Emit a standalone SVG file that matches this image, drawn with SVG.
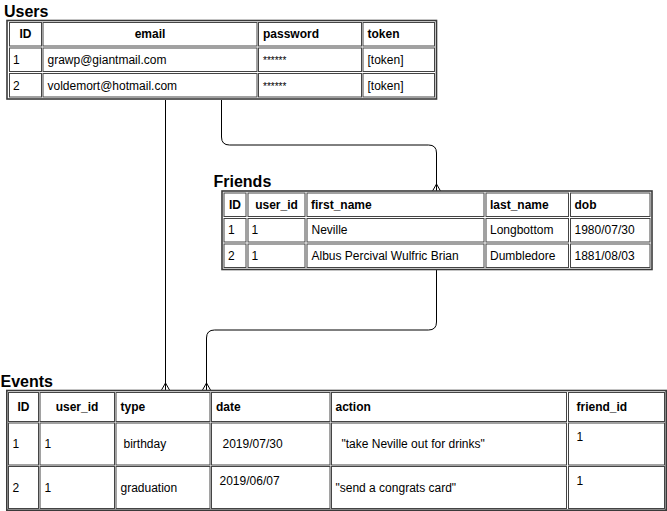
<svg xmlns="http://www.w3.org/2000/svg" width="667" height="511" viewBox="0 0 667 511">
<style>
.title{font-family:"Liberation Sans",Arial,sans-serif;font-size:16px;font-weight:bold;fill:#000}
.outer{fill:#fff;stroke:#3a3a3a;stroke-width:1.6}
.cell{fill:none;stroke:#444;stroke-width:1}
.t{font-family:"Liberation Sans",Arial,sans-serif;font-size:12px;fill:#000}
.h{font-family:"Liberation Sans",Arial,sans-serif;font-size:12px;font-weight:bold;fill:#000}
.c{text-anchor:middle}
.conn{fill:none;stroke:#000;stroke-width:1}
</style>
<defs>
<marker id="many" markerUnits="userSpaceOnUse" markerWidth="14" markerHeight="14" refX="10" refY="7" orient="auto" viewBox="0 0 14 14">
<path d="M10 3 L3 7 L10 11" fill="none" stroke="#000" stroke-width="1"/>
</marker>
</defs>
<rect width="667" height="511" fill="#fff"/>

<g id="connectors">
<path class="conn" d="M165.5 100 V390" marker-end="url(#many)"/>
<path class="conn" d="M221.5 100 V137 Q221.5 145 229.5 145 H428.5 Q436.5 145 436.5 153 V191" marker-end="url(#many)"/>
<path class="conn" d="M436.5 270 V322 Q436.5 330 428.5 330 H214.5 Q206.5 330 206.5 338 V390" marker-end="url(#many)"/>
</g>

<g id="users">
<text class="title" x="4" y="17">Users</text>
<rect class="outer" x="7" y="20.5" width="429.5" height="78.5"/>
<g class="cells">
<rect class="cell" x="9.5" y="22.5" width="32" height="23.5"/>
<rect class="cell" x="43" y="22.5" width="214" height="23.5"/>
<rect class="cell" x="258.5" y="22.5" width="103" height="23.5"/>
<rect class="cell" x="363" y="22.5" width="71.5" height="23.5"/>
<rect class="cell" x="9.5" y="48" width="32" height="23.5"/>
<rect class="cell" x="43" y="48" width="214" height="23.5"/>
<rect class="cell" x="258.5" y="48" width="103" height="23.5"/>
<rect class="cell" x="363" y="48" width="71.5" height="23.5"/>
<rect class="cell" x="9.5" y="73.5" width="32" height="23.5"/>
<rect class="cell" x="43" y="73.5" width="214" height="23.5"/>
<rect class="cell" x="258.5" y="73.5" width="103" height="23.5"/>
<rect class="cell" x="363" y="73.5" width="71.5" height="23.5"/>
</g>
<text class="h c" x="25.5" y="38">ID</text>
<text class="h c" x="150" y="38">email</text>
<text class="h" x="263" y="38">password</text>
<text class="h" x="367.5" y="38">token</text>
<text class="t" x="13" y="64">1</text>
<text class="t" x="47.5" y="64">grawp@giantmail.com</text>
<text class="t" x="263" y="64" style="font-size:10px">******</text>
<text class="t" x="367.5" y="64">[token]</text>
<text class="t" x="13" y="90">2</text>
<text class="t" x="47.5" y="90">voldemort@hotmail.com</text>
<text class="t" x="263" y="90" style="font-size:10px">******</text>
<text class="t" x="367.5" y="90">[token]</text>
</g>

<g id="friends">
<text class="title" x="213.5" y="187">Friends</text>
<rect class="outer" x="222" y="191" width="430" height="78.5"/>
<g class="cells">
<rect class="cell" x="224" y="193" width="22" height="23.5"/>
<rect class="cell" x="248" y="193" width="57" height="23.5"/>
<rect class="cell" x="307" y="193" width="177" height="23.5"/>
<rect class="cell" x="486" y="193" width="82.5" height="23.5"/>
<rect class="cell" x="570.5" y="193" width="79.5" height="23.5"/>
<rect class="cell" x="224" y="218.5" width="22" height="23.5"/>
<rect class="cell" x="248" y="218.5" width="57" height="23.5"/>
<rect class="cell" x="307" y="218.5" width="177" height="23.5"/>
<rect class="cell" x="486" y="218.5" width="82.5" height="23.5"/>
<rect class="cell" x="570.5" y="218.5" width="79.5" height="23.5"/>
<rect class="cell" x="224" y="244" width="22" height="23.5"/>
<rect class="cell" x="248" y="244" width="57" height="23.5"/>
<rect class="cell" x="307" y="244" width="177" height="23.5"/>
<rect class="cell" x="486" y="244" width="82.5" height="23.5"/>
<rect class="cell" x="570.5" y="244" width="79.5" height="23.5"/>
</g>
<text class="h c" x="235" y="208.5">ID</text>
<text class="h c" x="276.5" y="208.5">user_id</text>
<text class="h" x="311" y="208.5">first_name</text>
<text class="h" x="490" y="208.5">last_name</text>
<text class="h" x="574.5" y="208.5">dob</text>
<text class="t" x="228" y="234">1</text>
<text class="t" x="251.5" y="234">1</text>
<text class="t" x="311.5" y="234">Neville</text>
<text class="t" x="490" y="234">Longbottom</text>
<text class="t" x="574.5" y="234">1980/07/30</text>
<text class="t" x="228" y="259.5">2</text>
<text class="t" x="251.5" y="259.5">1</text>
<text class="t" x="311.5" y="259.5">Albus Percival Wulfric Brian</text>
<text class="t" x="490" y="259.5">Dumbledore</text>
<text class="t" x="574.5" y="259.5">1881/08/03</text>
</g>

<g id="events">
<text class="title" x="0.5" y="387">Events</text>
<rect class="outer" x="6.8" y="390.5" width="659.4" height="119.7"/>
<g class="cells">
<rect class="cell" x="8.5" y="392.5" width="30" height="29"/>
<rect class="cell" x="40" y="392.5" width="74.5" height="29"/>
<rect class="cell" x="116" y="392.5" width="94" height="29"/>
<rect class="cell" x="211.5" y="392.5" width="118.5" height="29"/>
<rect class="cell" x="331.5" y="392.5" width="235" height="29"/>
<rect class="cell" x="568.5" y="392.5" width="96" height="29"/>
<rect class="cell" x="8.5" y="423" width="30" height="42"/>
<rect class="cell" x="40" y="423" width="74.5" height="42"/>
<rect class="cell" x="116" y="423" width="94" height="42"/>
<rect class="cell" x="211.5" y="423" width="118.5" height="42"/>
<rect class="cell" x="331.5" y="423" width="235" height="42"/>
<rect class="cell" x="568.5" y="423" width="96" height="42"/>
<rect class="cell" x="8.5" y="466.5" width="30" height="42"/>
<rect class="cell" x="40" y="466.5" width="74.5" height="42"/>
<rect class="cell" x="116" y="466.5" width="94" height="42"/>
<rect class="cell" x="211.5" y="466.5" width="118.5" height="42"/>
<rect class="cell" x="331.5" y="466.5" width="235" height="42"/>
<rect class="cell" x="568.5" y="466.5" width="96" height="42"/>
</g>
<text class="h c" x="23.5" y="411">ID</text>
<text class="h c" x="77" y="411">user_id</text>
<text class="h" x="120.5" y="411">type</text>
<text class="h" x="216" y="411">date</text>
<text class="h" x="335.5" y="411">action</text>
<text class="h" x="576.5" y="411">friend_id</text>
<text class="t" x="12.5" y="448">1</text>
<text class="t" x="44.5" y="448">1</text>
<text class="t" x="123.5" y="448">birthday</text>
<text class="t" x="222.5" y="448">2019/07/30</text>
<text class="t" x="341.5" y="448">"take Neville out for drinks"</text>
<text class="t" x="576.5" y="441">1</text>
<text class="t" x="12.5" y="492">2</text>
<text class="t" x="44.5" y="492">1</text>
<text class="t" x="120.5" y="492">graduation</text>
<text class="t" x="219.5" y="485">2019/06/07</text>
<text class="t" x="335.5" y="492">"send a congrats card"</text>
<text class="t" x="576.5" y="485">1</text>
</g>
</svg>
